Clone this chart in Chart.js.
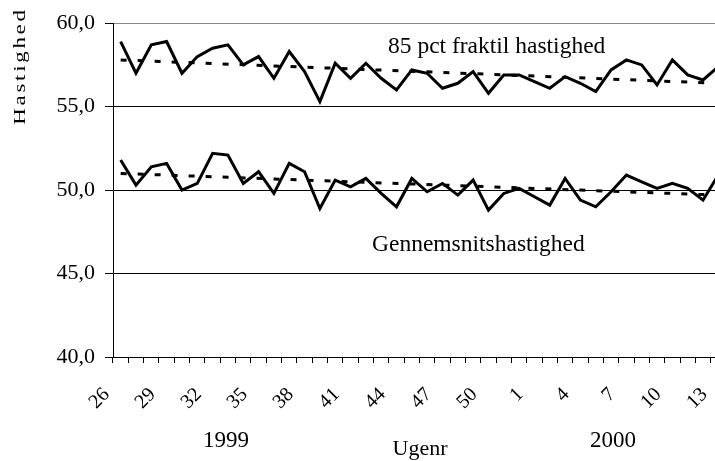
<!DOCTYPE html>
<html>
<head>
<meta charset="utf-8">
<script src="https://cdn.jsdelivr.net/npm/chart.js@4.4.1/dist/chart.umd.min.js"></script>
<style>
html,body{margin:0;padding:0;background:#fff;overflow:hidden;width:715px;height:461px;}
#wrap{position:absolute;left:0;top:0;width:740px;height:461px;}
</style>
</head>
<body>
<div id="wrap"><canvas id="c" width="740" height="461"></canvas></div>
<script>
// Week numbers (1999 wk 26-52, 2000 wk 1-13)
const weeks = ['26','27','28','29','30','31','32','33','34','35','36','37','38','39','40','41','42','43','44','45','46','47','48','49','50','51','52',
               '1','2','3','4','5','6','7','8','9','10','11','12','13'];
// 85 pct fraktil hastighed
const fraktil85 = [58.9,57.0,58.7,58.9,57.0,58.0,58.5,58.7,57.5,58.0,56.7,58.3,57.1,55.3,57.6,56.7,57.6,56.7,56.0,57.2,
                   57.0,56.1,56.4,57.1,55.8,56.9,56.9,56.5,56.1,56.8,56.4,55.9,57.2,57.8,57.5,56.3,57.8,56.9,56.6,57.4];
// Gennemsnitshastighed
const gennemsnit = [51.8,50.3,51.4,51.6,50.0,50.4,52.2,52.1,50.4,51.1,49.8,51.6,51.1,48.9,50.6,50.2,50.7,49.8,49.0,50.7,
                    49.9,50.4,49.7,50.6,48.8,49.8,50.1,49.6,49.1,50.7,49.4,49.0,49.9,50.9,50.5,50.1,50.4,50.1,49.4,50.9];
// Trend lines (start and end values)
const trend85 = [57.8, 56.4];
const trendGns = [51.0, 49.7];
const yTicks = [40, 45, 50, 55, 60];

function endpoints(v){ const a = weeks.map(()=>null); a[0]=v[0]; a[a.length-1]=v[1]; return a; }

const serif = "'Liberation Serif','Times New Roman',serif";

const textPlugin = {
  id:'texts',
  afterDraw(chart){
    const c = chart.ctx;
    c.save();
    c.fillStyle = '#000';
    c.textBaseline = 'alphabetic';
    c.font = "23.5px " + serif;
    c.textAlign = 'left';
    c.fillText('85 pct fraktil hastighed', 388, 53);
    c.fillText('Gennemsnitshastighed', 372, 251);
    c.textAlign = 'center';
    c.font = "23px " + serif;
    c.fillText('1999', 226, 447);
    c.fillText('2000', 613, 447);
    c.font = "22px " + serif;
    c.fillText('Ugenr', 420, 455);
    c.translate(25, 66);
    c.rotate(-Math.PI/2);
    c.scale(1.35, 1);
    c.font = "17px " + serif;
    if ('letterSpacing' in c) c.letterSpacing = '2px';
    c.textAlign = 'center';
    c.fillText('Hastighed', 0, 0);
    c.restore();
  }
};

new Chart(document.getElementById('c'), {
  type: 'line',
  data: {
    labels: weeks,
    datasets: [
      {data: fraktil85, borderColor:'#000', borderWidth:3, pointRadius:0, tension:0, fill:false},
      {data: gennemsnit, borderColor:'#000', borderWidth:3, pointRadius:0, tension:0, fill:false},
      {data: endpoints(trend85), borderColor:'#000', borderWidth:3, borderDash:[6,11], pointRadius:0, spanGaps:true, fill:false},
      {data: endpoints(trendGns), borderColor:'#000', borderWidth:3, borderDash:[6,11], pointRadius:0, spanGaps:true, fill:false}
    ]
  },
  options: {
    responsive:false,
    animation:false,
    plugins:{legend:{display:false}, tooltip:{enabled:false}},
    layout:{padding:{top:19, right:14, left:0, bottom:0}},
    scales:{
      x:{
        type:'category',
        offset:true,
        grid:{offset:true, drawOnChartArea:false, drawTicks:true, tickLength:6, color:'#000'},
        border:{color:'#000', width:1},
        ticks:{
          autoSkip:false, maxRotation:45, minRotation:45, padding:20, labelOffset:-14, color:'#000',
          font:{family:serif, size:20},
          callback:(v,i)=> i%3===0 ? weeks[i] : ''
        },
        afterFit:(s)=>{ s.height = 104; s.paddingRight = 0; s.paddingLeft = 0; }
      },
      y:{
        min:40, max:60,
        afterBuildTicks:(s)=>{ s.ticks = yTicks.map(v=>({value:v})); },
        grid:{color:(ctx)=> ctx.tick && ctx.tick.value===60 ? '#888' : '#000', lineWidth:1, tickLength:8, tickColor:'#000', drawTicks:true},
        border:{color:'#000', width:1},
        ticks:{color:'#000', padding:10, font:{family:serif, size:22},
          callback:(v)=> Number(v).toFixed(1).replace('.', ',')},
        afterFit:(s)=>{ s.width = 113; }
      }
    }
  },
  plugins:[textPlugin]
});
</script>
</body>
</html>
